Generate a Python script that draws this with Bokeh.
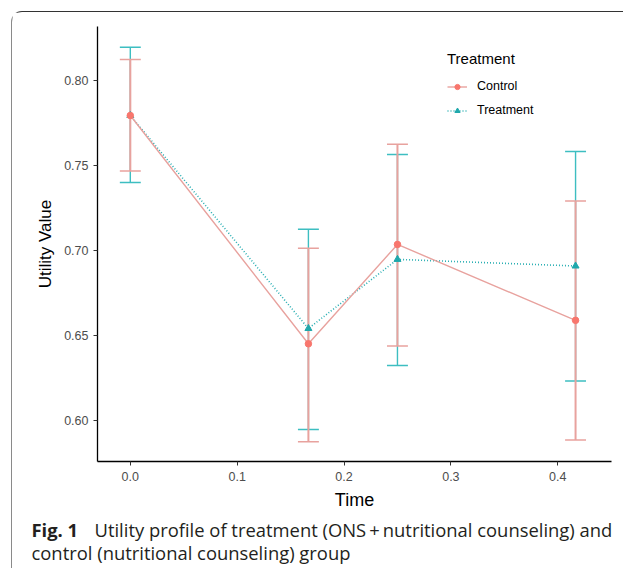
from bokeh.plotting import figure
from bokeh.layouts import column
from bokeh.models import (Range1d, FixedTicker, CustomJSTickFormatter,
                          ColumnDataSource, Legend, LegendItem, Label)
from bokeh.embed import file_html
from bokeh.resources import INLINE

# ---- data ----
time = [0.0, 2 / 12, 3 / 12, 5 / 12]
control_mean = [0.7794, 0.6450, 0.7035, 0.6588]
control_lower = [0.7467, 0.5874, 0.6437, 0.5884]
control_upper = [0.8124, 0.7012, 0.7625, 0.7290]
treat_mean = [0.7794, 0.6540, 0.6947, 0.6908]
treat_lower = [0.7400, 0.5945, 0.6322, 0.6231]
treat_upper = [0.8196, 0.7125, 0.7565, 0.7582]
x_ticks = [0.0, 0.1, 0.2, 0.3, 0.4]
y_ticks = [0.60, 0.65, 0.70, 0.75, 0.80]
legend_title = "Treatment"
series_names = ["Control", "Treatment"]
x_label = "Time"
y_label = "Utility Value"
caption_bold = "Fig. 1"
caption_line1 = "Utility profile of treatment (ONS\u2009+\u2009nutritional counseling) and"
caption_line2 = "control (nutritional counseling) group"

RED = "#F8766D"
RED_LIGHT = "#E8A29E"
CYAN_BAR = "#3DBEC1"
CYAN_DARK = "#1FA8AC"

X0, X1 = -0.0307, 0.4503
CAP = 0.0098  # half cap width in data units

p = figure(width=611, height=500, output_backend="svg", toolbar_location=None,
           x_range=Range1d(X0, X1), y_range=Range1d(0.5757, 0.8318),
           min_border_left=85, min_border_right=12, min_border_top=14, min_border_bottom=50)
p.frame_align = False
p.background_fill_color = "white"
p.border_fill_color = "white"
p.outline_line_color = None
p.grid.visible = False

src_c = ColumnDataSource(dict(x=time, m=control_mean, lo=control_lower, hi=control_upper,
                              xl=[t - CAP for t in time], xr=[t + CAP for t in time]))
src_t = ColumnDataSource(dict(x=time, m=treat_mean, lo=treat_lower, hi=treat_upper,
                              xl=[t - CAP for t in time], xr=[t + CAP for t in time]))

# error bars (treatment under control)
for src, col, stem_w in ((src_t, CYAN_BAR, 1.4), (src_c, RED_LIGHT, 2.0)):
    p.segment(x0="x", y0="lo", x1="x", y1="hi", source=src, line_color=col, line_width=stem_w)
    p.segment(x0="xl", y0="hi", x1="xr", y1="hi", source=src, line_color=col, line_width=1.5)
    p.segment(x0="xl", y0="lo", x1="xr", y1="lo", source=src, line_color=col, line_width=1.5)

lt = p.line("x", "m", source=src_t, line_color="#2AAFB3", line_width=1.6, line_dash="1 2")
st = p.scatter("x", "m", source=src_t, marker="triangle", size=7, fill_color=CYAN_DARK,
               line_color=CYAN_DARK)
lc = p.line("x", "m", source=src_c, line_color=RED_LIGHT, line_width=1.4)
sc = p.scatter("x", "m", source=src_c, marker="circle", size=6.5, fill_color=RED,
               line_color=RED)

legend = Legend(items=[LegendItem(label=series_names[0], renderers=[lc, sc]),
                       LegendItem(label=series_names[1], renderers=[lt, st])],
                title=legend_title, location=(350, 344))
legend.title_text_font = "Liberation Sans"
legend.title_text_font_size = "15px"
legend.title_text_font_style = "normal"
legend.title_text_color = "black"
legend.title_standoff = 12
legend.label_text_font = "Liberation Sans"
legend.label_text_font_size = "12.5px"
legend.label_text_color = "black"
legend.glyph_width = 20
legend.glyph_height = 13
legend.label_standoff = 10
legend.spacing = 10
legend.padding = 0
legend.margin = 0
legend.border_line_alpha = 0
legend.background_fill_alpha = 0
p.add_layout(legend)

for ax in (p.xaxis[0], p.yaxis[0]):
    ax.axis_line_color = "black"
    ax.axis_line_width = 1.3
    ax.major_tick_line_color = "#333333"
    ax.major_tick_out = 4
    ax.major_tick_in = 0
    ax.minor_tick_line_color = None
    ax.major_label_text_font = "Liberation Sans"
    ax.major_label_text_font_size = "12.5px"
    ax.major_label_text_color = "#4D4D4D"
    ax.axis_label_text_font = "Liberation Sans"
    ax.axis_label_text_font_style = "normal"
    ax.axis_label_text_color = "black"

p.xaxis.ticker = FixedTicker(ticks=x_ticks)
p.yaxis.ticker = FixedTicker(ticks=y_ticks)
p.xaxis.formatter = CustomJSTickFormatter(code="return tick.toFixed(1);")
p.yaxis.formatter = CustomJSTickFormatter(code="return tick.toFixed(2);")
p.xaxis.axis_label = x_label
p.yaxis.axis_label = y_label
p.xaxis.axis_label_text_font_size = "18px"
p.yaxis.axis_label_text_font_size = "17px"
p.xaxis.major_label_standoff = 6
p.yaxis.major_label_standoff = 5
p.xaxis.axis_label_standoff = 6
p.yaxis.axis_label_standoff = 6

# caption panel
cap = figure(width=611, height=56, output_backend="svg", toolbar_location=None,
             x_range=Range1d(0, 611), y_range=Range1d(56, 0),
             x_axis_location=None, y_axis_location=None,
             min_border=0, min_border_left=0, min_border_right=0,
             min_border_top=0, min_border_bottom=0)
cap.frame_align = False
cap.outline_line_color = None
cap.grid.visible = False
cap.background_fill_color = "white"
cap.border_fill_color = "white"
cap.add_layout(Label(x=19, y=17, text=caption_bold,
                     text_font="Open Sans", text_font_style="bold", text_font_size="18.4px",
                     text_color="#231F20", text_baseline="alphabetic"))
cap.add_layout(Label(x=82, y=17, text=caption_line1,
                     text_font="Open Sans", text_font_size="18.4px",
                     text_color="#231F20", text_baseline="alphabetic"))
cap.add_layout(Label(x=19, y=40, text=caption_line2,
                     text_font="Open Sans", text_font_size="18.4px",
                     text_color="#231F20", text_baseline="alphabetic"))

layout = column(p, cap, spacing=0, margin=(11, 0, 0, 11),
                styles={"border-top": "1.5px solid #333333",
                        "border-left": "1.5px solid #8A8A8A",
                        "border-top-left-radius": "11px"})

open("out.html", "w").write(file_html(layout, INLINE))
